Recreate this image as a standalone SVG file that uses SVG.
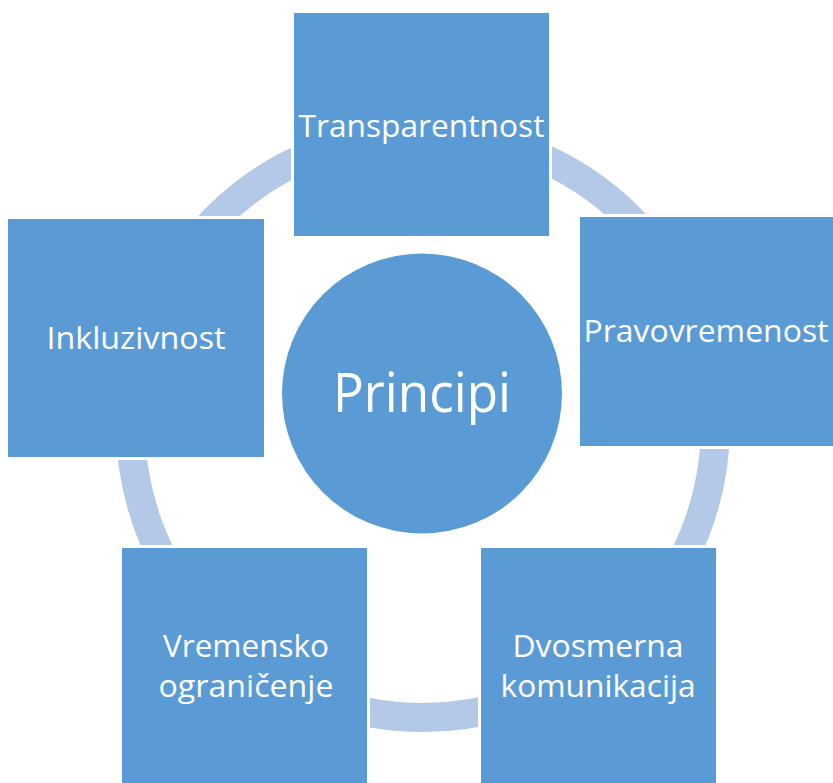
<svg xmlns="http://www.w3.org/2000/svg" width="833" height="783" viewBox="0 0 833 783">
<style>
.box{fill:#5b9bd5;stroke:#ffffff;stroke-width:6;paint-order:stroke}
.t{fill:#ffffff;font-family:"Open Sans","Liberation Sans",sans-serif;font-size:31px;text-anchor:middle}
.big{font-size:54px}
</style>
<rect width="833" height="783" fill="#ffffff"/>
<g id="connectors">
<circle cx="423" cy="425" r="292.5" fill="none" stroke="#b4c8e7" stroke-width="29"/>
</g>
<g id="center">
<circle cx="422" cy="393.5" r="140" fill="#5b9bd5"/>
<text class="t big" x="422" y="412" textLength="178" lengthAdjust="spacingAndGlyphs">Principi</text>
</g>
<g id="transparentnost">
<rect class="box" x="294" y="13" width="255" height="223"/>
<text class="t" x="421.5" y="137" textLength="246" lengthAdjust="spacingAndGlyphs">Transparentnost</text>
</g>
<g id="pravovremenost">
<rect class="box" x="580" y="217" width="260" height="229"/>
<text class="t" x="706" y="342" textLength="245" lengthAdjust="spacingAndGlyphs">Pravovremenost</text>
</g>
<g id="inkluzivnost">
<rect class="box" x="8" y="219" width="256" height="238"/>
<text class="t" x="136" y="349" textLength="179" lengthAdjust="spacingAndGlyphs">Inkluzivnost</text>
</g>
<g id="vremensko">
<rect class="box" x="122" y="548" width="245" height="240"/>
<text class="t" x="246" y="657" textLength="166" lengthAdjust="spacingAndGlyphs">Vremensko</text>
<text class="t" x="246" y="697" textLength="175" lengthAdjust="spacingAndGlyphs">ograničenje</text>
</g>
<g id="dvosmerna">
<rect class="box" x="481" y="548" width="235" height="240"/>
<text class="t" x="598" y="657" textLength="171" lengthAdjust="spacingAndGlyphs">Dvosmerna</text>
<text class="t" x="598" y="697" textLength="195" lengthAdjust="spacingAndGlyphs">komunikacija</text>
</g>
</svg>
